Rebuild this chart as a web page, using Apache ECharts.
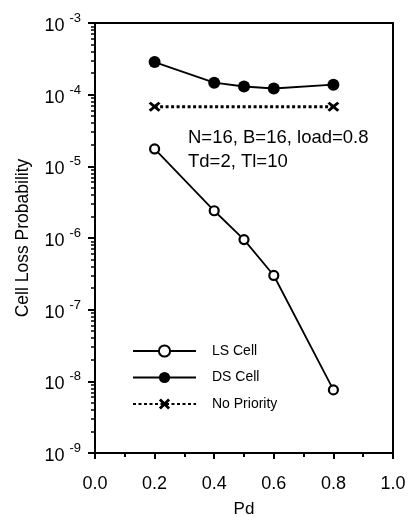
<!DOCTYPE html>
<html><head><meta charset="utf-8">
<script src="https://cdn.jsdelivr.net/npm/echarts@6/dist/echarts.min.js"></script>
<style>html,body{margin:0;padding:0;background:#fff}#c{width:410px;height:517px}</style>
</head><body><div id="c"></div>
<script>
const pd = [0.2, 0.4, 0.5, 0.6, 0.8];
const lsCell = [1.75e-5, 2.4e-6, 9.5e-7, 3.0e-7, 7.6e-9];
const dsCell = [2.85e-4, 1.47e-4, 1.3e-4, 1.22e-4, 1.38e-4];
const noPrioPd = [0.2, 0.8];
const noPrio = [6.8e-5, 6.8e-5];
const yMajor = [1e-9, 1e-8, 1e-7, 1e-6, 1e-5, 1e-4, 1e-3];
const xTicks = [0.0, 0.2, 0.4, 0.6, 0.8, 1.0];

const minorVals = [];
for (let e = -9; e < -3; e++) for (let m = 2; m <= 9; m++) minorVals.push(m * Math.pow(10, e));
const minorExp = minorVals.map(v => Math.log10(v));

const pair = (xs, ys) => xs.map((x, i) => [x, ys[i]]);
const font = 'Liberation Sans, Arial, sans-serif';
const xSym = 'path://M0,1.8 L1.8,0 L5,3.2 L8.2,0 L10,1.8 L6.8,5 L10,8.2 L8.2,10 L5,6.8 L1.8,10 L0,8.2 L3.2,5 Z';

const chart = echarts.init(document.getElementById('c'));
chart.setOption({
  animation: false,
  backgroundColor: '#fff',
  grid: { left: 95, right: 17, top: 23, bottom: 64, show: true, borderColor: '#000', borderWidth: 2,
    outerBoundsMode: 'none', containLabel: false },
  xAxis: {
    type: 'value', min: 0, max: 1, interval: 0.2,
    name: 'Pd', nameLocation: 'middle', nameGap: 48,
    nameTextStyle: { fontFamily: font, fontSize: 17, color: '#000' },
    axisLine: { lineStyle: { color: '#000', width: 2 } },
    axisTick: { show: true, length: 6, lineStyle: { color: '#000', width: 2 } },
    minorTick: { show: true, splitNumber: 2, length: 4, lineStyle: { color: '#000', width: 2 } },
    splitLine: { show: false },
    axisLabel: { fontFamily: font, fontSize: 18, color: '#000', margin: 22,
      customValues: xTicks, formatter: v => v.toFixed(1) }
  },
  yAxis: [{
    type: 'log', logBase: 10, min: 1e-9, max: 1e-3,
    name: 'Cell Loss Probability', nameLocation: 'middle', nameGap: 63,
    nameTextStyle: { fontFamily: font, fontSize: 17.5, color: '#000' },
    axisLine: { lineStyle: { color: '#000', width: 2 } },
    axisTick: { show: true, length: 7, lineStyle: { color: '#000', width: 2 } },
    splitLine: { show: false },
    axisLabel: {
      color: '#000', margin: 14, customValues: yMajor,
      formatter: v => '{b|10}{e|' + Math.round(Math.log10(v)) + '}',
      rich: {
        b: { fontFamily: font, fontSize: 18, color: '#000', padding: [6, 0, 0, 0] },
        e: { fontFamily: font, fontSize: 13, color: '#000', padding: [0, 0, 9, 5] }
      }
    }
  }, {
    type: 'value', min: -9, max: -3, position: 'left', offset: 0,
    axisLine: { show: false },
    axisTick: { show: true, length: 4, lineStyle: { color: '#000', width: 1.5 }, customValues: minorExp },
    axisLabel: { show: true, customValues: minorExp, formatter: () => '' },
    splitLine: { show: false }
  }],
  legend: {
    left: 127, top: 339, orient: 'vertical', itemWidth: 63, itemHeight: 14, itemGap: 12.5,
    textStyle: { fontFamily: font, fontSize: 14, color: '#000', padding: [0, 0, 0, 11] },
    data: ['LS Cell', 'DS Cell', 'No Priority']
  },
  graphic: [{
    type: 'text', left: 188, top: 126,
    style: { text: 'N=16, B=16, load=0.8\nTd=2, Tl=10', fontFamily: font, fontSize: 18.5, lineHeight: 24, fill: '#000' }
  }],
  series: [{
    name: 'LS Cell', type: 'line', data: pair(pd, lsCell),
    symbol: 'circle', symbolSize: 9,
    lineStyle: { color: '#000', width: 1.8 },
    itemStyle: { color: '#fff', borderColor: '#000', borderWidth: 2.2 }
  }, {
    name: 'DS Cell', type: 'line', data: pair(pd, dsCell),
    symbol: 'circle', symbolSize: 12,
    lineStyle: { color: '#000', width: 1.8 },
    itemStyle: { color: '#000', borderColor: '#000', borderWidth: 0 }
  }, {
    name: 'No Priority', type: 'line', data: pair(noPrioPd, noPrio),
    symbol: xSym, symbolSize: [12, 10],
    lineStyle: { color: '#000', width: 3, type: [3, 2.5] },
    itemStyle: { color: '#000' }
  }]
});
</script>
</body></html>
